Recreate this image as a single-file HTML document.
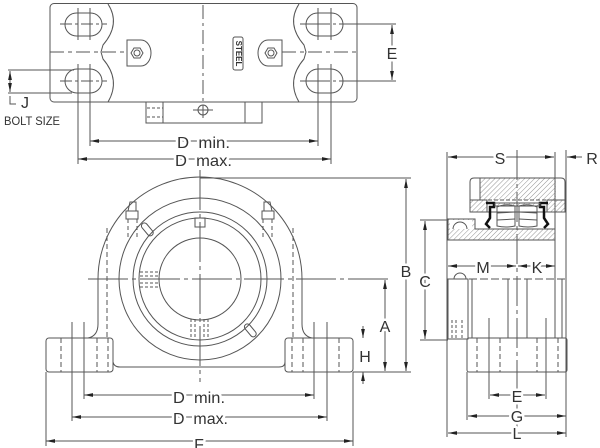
<!DOCTYPE html>
<html><head><meta charset="utf-8"><style>
html,body{margin:0;padding:0;background:#fff;}
svg{display:block}
text{font-family:"Liberation Sans",sans-serif;fill:#333;}
.t{stroke:#fff;stroke-width:5;paint-order:stroke;stroke-linejoin:round}
</style></head><body>
<svg width="600" height="448" viewBox="0 0 600 448" xmlns="http://www.w3.org/2000/svg">
<defs>
<marker id="ar" markerWidth="9" markerHeight="5" refX="9" refY="2.5" orient="auto-start-reverse" markerUnits="userSpaceOnUse"><path d="M0,0.6 L9,2.5 L0,4.4 z" fill="#222"/></marker>
<pattern id="h" width="3.5" height="3.5" patternUnits="userSpaceOnUse" patternTransform="rotate(45)"><line x1="0" y1="0" x2="0" y2="3.5" stroke="#888" stroke-width="0.9"/></pattern>
</defs>

<g fill="none" stroke="#555" stroke-width="1">
<!-- ===== TOP VIEW ===== -->
<rect x="50" y="3.5" width="307" height="98.5" rx="4"/>
<path d="M108,4 Q121,24 103,45 L101,52 L103,59 Q121,80 108,102"/>
<path d="M299,4 Q286,24 304,45 L306,52 L304,59 Q286,80 299,102"/>
<rect x="65" y="13" width="37" height="23" rx="11.5"/>
<rect x="65" y="69" width="37" height="24" rx="12"/>
<rect x="306" y="13" width="37" height="23" rx="11.5"/>
<rect x="306" y="69" width="37" height="24" rx="12"/>
<line x1="78" y1="8" x2="78" y2="40"/><line x1="90" y1="8" x2="90" y2="40"/>
<line x1="318" y1="8" x2="318" y2="40"/><line x1="331" y1="8" x2="331" y2="40"/>
<line x1="78" y1="64" x2="78" y2="164"/><line x1="90" y1="64" x2="90" y2="146"/>
<line x1="318" y1="64" x2="318" y2="146"/><line x1="331" y1="64" x2="331" y2="164"/>
<line x1="60" y1="24" x2="107" y2="24" stroke-dasharray="12,3,3,3"/>
<line x1="60" y1="81" x2="107" y2="81" stroke-dasharray="12,3,3,3"/>
<line x1="300" y1="24" x2="396" y2="24" stroke-dasharray="30,3,3,3,60"/>
<line x1="300" y1="81" x2="396" y2="81" stroke-dasharray="30,3,3,3,60"/>
<line x1="50" y1="52" x2="126" y2="52" stroke-dasharray="14,4,4,4"/>
<line x1="282" y1="52" x2="357" y2="52" stroke-dasharray="14,4,4,4"/>
<!-- grease fittings -->
<path d="M127,40 L141,40 A10,13 0 0 1 141,66 L127,66 Z"/>
<polygon points="143,53 140,58 134,58 131,53 134,48 140,48"/>
<circle cx="137" cy="53" r="3"/>
<path d="M282,40 L268,40 A10,13 0 0 0 268,66 L282,66 Z"/>
<polygon points="277,53 274,58 268,58 265,53 268,48 274,48"/>
<circle cx="271" cy="53" r="3"/>
<rect x="233" y="37" width="10" height="33" rx="2"/>
<!-- bottom projection -->
<rect x="146" y="102" width="116" height="21"/>
<line x1="245" y1="102" x2="245" y2="123"/>
<line x1="163" y1="102" x2="163" y2="123"/>
<line x1="147" y1="108" x2="163" y2="108" stroke-dasharray="3,2"/>
<line x1="147" y1="117" x2="163" y2="117" stroke-dasharray="3,2"/>
<circle cx="203" cy="110" r="5"/>
<line x1="193" y1="110" x2="213" y2="110"/>
<line x1="203" y1="5" x2="203" y2="118" stroke-dasharray="14,4,3,4"/>
<!-- J dimension -->
<line x1="8" y1="70" x2="74" y2="70"/>
<line x1="8" y1="93" x2="72" y2="93"/>
<line x1="10" y1="71" x2="10" y2="92" marker-start="url(#ar)" marker-end="url(#ar)"/>
<path d="M10,96 L10,104 L16,104"/>
<!-- E top -->
<line x1="392" y1="25" x2="392" y2="80" marker-start="url(#ar)" marker-end="url(#ar)"/>
<!-- D top -->
<line x1="90" y1="141" x2="318" y2="141" marker-start="url(#ar)" marker-end="url(#ar)"/>
<line x1="78" y1="159" x2="331" y2="159" marker-start="url(#ar)" marker-end="url(#ar)"/>

<!-- ===== FRONT VIEW ===== -->
<path d="M88,338 Q98,336 98,324 L98,279 A102,102 0 0 1 302,279 L302,324 Q302,336 312,338"/>
<path d="M113,362 Q114,367 120,367 L279,367 Q285,367 285,362"/>
<rect x="46" y="338" width="67" height="34" rx="3"/>
<rect x="285" y="338" width="68" height="34" rx="3"/>
<circle cx="200" cy="279" r="81"/>
<circle cx="200" cy="279" r="67"/>
<circle cx="200" cy="279" r="61"/>
<circle cx="200" cy="279" r="41"/>
<line x1="88" y1="279" x2="392" y2="279" stroke-dasharray="40,4,4,4"/>
<line x1="200" y1="170" x2="200" y2="382" stroke-dasharray="40,4,4,4"/>
<line x1="107" y1="228" x2="107" y2="338" stroke-dasharray="5,3"/>
<line x1="293" y1="228" x2="293" y2="338" stroke-dasharray="5,3"/>
<line x1="61" y1="338" x2="61" y2="372" stroke-dasharray="5,3"/>
<line x1="97" y1="338" x2="97" y2="372" stroke-dasharray="5,3"/>
<line x1="108" y1="338" x2="108" y2="372" stroke-dasharray="5,3"/>
<line x1="339" y1="338" x2="339" y2="372" stroke-dasharray="5,3"/>
<line x1="303" y1="338" x2="303" y2="372" stroke-dasharray="5,3"/>
<line x1="292" y1="338" x2="292" y2="372" stroke-dasharray="5,3"/>
<line x1="72" y1="322" x2="72" y2="421"/>
<line x1="84" y1="322" x2="84" y2="399"/>
<line x1="314" y1="322" x2="314" y2="399"/>
<line x1="327" y1="322" x2="327" y2="421"/>
<line x1="46" y1="372" x2="46" y2="446"/>
<line x1="353" y1="372" x2="353" y2="446"/>
<!-- grease fittings front -->
<path d="M128,211 L136,211 L136,202 L130,202 Z"/>
<rect x="126" y="211" width="12" height="8"/>
<line x1="128" y1="219" x2="128" y2="240" stroke-dasharray="4,3"/>
<line x1="137" y1="219" x2="137" y2="240" stroke-dasharray="4,3"/>
<path d="M264,211 L272,211 L270,202 L264,202 Z"/>
<rect x="262" y="211" width="12" height="8"/>
<line x1="263" y1="219" x2="263" y2="240" stroke-dasharray="4,3"/>
<line x1="272" y1="219" x2="272" y2="240" stroke-dasharray="4,3"/>
<rect x="195" y="218" width="10" height="9"/>
<rect x="140" y="226" width="15" height="6" rx="3" transform="rotate(50 147 229)"/>
<rect x="243" y="327" width="15" height="6" rx="3" transform="rotate(50 250 330)"/>
<g stroke-dasharray="3,2">
<line x1="140" y1="272" x2="158" y2="272"/><line x1="140" y1="276" x2="158" y2="276"/>
<line x1="140" y1="283" x2="158" y2="283"/><line x1="140" y1="287" x2="158" y2="287"/>
<line x1="191" y1="319" x2="191" y2="338"/><line x1="195" y1="319" x2="195" y2="338"/>
<line x1="204" y1="319" x2="204" y2="338"/><line x1="208" y1="319" x2="208" y2="338"/>
</g>
<!-- front dims -->
<line x1="200" y1="178" x2="411" y2="178"/>
<line x1="353" y1="372" x2="411" y2="372"/>
<line x1="406" y1="179" x2="406" y2="371" marker-start="url(#ar)" marker-end="url(#ar)"/>
<line x1="385" y1="280" x2="385" y2="371" marker-start="url(#ar)" marker-end="url(#ar)"/>
<line x1="363" y1="326" x2="363" y2="338" marker-end="url(#ar)"/>
<line x1="363" y1="384" x2="363" y2="372" marker-end="url(#ar)"/>
<line x1="420" y1="220" x2="448" y2="220"/>
<line x1="420" y1="340" x2="448" y2="340"/>
<line x1="425" y1="221" x2="425" y2="339" marker-start="url(#ar)" marker-end="url(#ar)"/>
<line x1="84" y1="395" x2="314" y2="395" marker-start="url(#ar)" marker-end="url(#ar)"/>
<line x1="72" y1="417" x2="327" y2="417" marker-start="url(#ar)" marker-end="url(#ar)"/>
<line x1="46" y1="441" x2="353" y2="441" marker-start="url(#ar)" marker-end="url(#ar)"/>

<!-- ===== SIDE VIEW ===== -->
<line x1="447" y1="152" x2="447" y2="437"/>
<line x1="555" y1="152" x2="555" y2="279"/>
<line x1="566" y1="150" x2="566" y2="437"/>
<line x1="517" y1="150" x2="517" y2="440" stroke-dasharray="30,4,4,4"/>
<line x1="448" y1="157" x2="554" y2="157" marker-start="url(#ar)" marker-end="url(#ar)"/>
<line x1="582" y1="157" x2="567" y2="157" marker-end="url(#ar)"/>
<!-- top cap -->
<rect x="480" y="178" width="76" height="22" fill="url(#h)" stroke="none"/>
<path d="M470,200 L470,182 Q470,178 474,178 L561,178 Q565,178 565,182 L565,200"/>
<line x1="480" y1="178" x2="480" y2="200"/>
<rect x="470" y="200" width="17" height="12" fill="url(#h)" stroke="#555"/>
<rect x="547" y="200" width="18" height="12" fill="url(#h)" stroke="#555"/>
<line x1="470" y1="200" x2="565" y2="200" stroke-dasharray="4,2"/>
<line x1="470" y1="212" x2="565" y2="212"/>
<!-- seals -->
<path d="M486,203 L494,203 L494,207 L490,207 L490,218 L486,224 L490,228" stroke="#111" stroke-width="2.5"/>
<path d="M548,203 L540,203 L540,207 L544,207 L544,218 L548,224 L544,228" stroke="#111" stroke-width="2.5"/>
<!-- rollers -->
<path d="M497,207 Q506,203 515,206 L515,226 Q506,228 497,226 Z"/>
<path d="M519,206 Q528,203 537,207 L537,226 Q528,228 519,226 Z"/>
<line x1="497" y1="213" x2="515" y2="212"/><line x1="497" y1="220" x2="515" y2="219"/>
<line x1="519" y1="212" x2="537" y2="213"/><line x1="519" y1="219" x2="537" y2="220"/>
<rect x="495" y="203" width="45" height="3" fill="url(#h)"/>
<!-- base -->
<path d="M448,219 L475,219 L475,229 L555,229 L555,240 L448,240 Z" fill="url(#h)"/>
<rect x="450" y="220" width="22" height="9" fill="#fff" stroke="none"/>
<path d="M453,229 A7,7 0 0 1 467,229"/>
<!-- lower body -->
<line x1="447" y1="279" x2="567" y2="279" stroke-dasharray="8,3"/>
<path d="M454,279 A6,6 0 0 1 466,279"/>
<rect x="448" y="279" width="20" height="60"/>
<line x1="472" y1="279" x2="472" y2="338"/>
<line x1="508" y1="279" x2="508" y2="338"/>
<line x1="527" y1="279" x2="527" y2="338"/>
<line x1="555" y1="279" x2="555" y2="338"/>
<line x1="562" y1="279" x2="562" y2="338"/>
<line x1="452" y1="320" x2="452" y2="338" stroke-dasharray="3,2"/>
<line x1="456" y1="320" x2="456" y2="338" stroke-dasharray="3,2"/>
<line x1="462" y1="320" x2="462" y2="338" stroke-dasharray="3,2"/>
<rect x="467" y="338" width="100" height="34" rx="2"/>
<line x1="477" y1="338" x2="477" y2="372" stroke-dasharray="5,3"/>
<line x1="500" y1="338" x2="500" y2="372" stroke-dasharray="5,3"/>
<line x1="537" y1="338" x2="537" y2="372" stroke-dasharray="5,3"/>
<line x1="558" y1="338" x2="558" y2="372" stroke-dasharray="5,3"/>
<line x1="489" y1="318" x2="489" y2="399"/>
<line x1="546" y1="318" x2="546" y2="399"/>
<line x1="467" y1="372" x2="467" y2="420"/>
<line x1="448" y1="266" x2="516" y2="266" marker-start="url(#ar)" marker-end="url(#ar)"/>
<line x1="518" y1="266" x2="555" y2="266" marker-start="url(#ar)" marker-end="url(#ar)"/>
<line x1="490" y1="395" x2="545" y2="395" marker-start="url(#ar)" marker-end="url(#ar)"/>
<line x1="468" y1="416" x2="566" y2="416" marker-start="url(#ar)" marker-end="url(#ar)"/>
<line x1="448" y1="433" x2="566" y2="433" marker-start="url(#ar)" marker-end="url(#ar)"/>
</g>

<!-- TEXT -->
<text x="238" y="53.5" font-family="Liberation Serif,serif" font-size="8" font-weight="bold" text-anchor="middle" dominant-baseline="middle" transform="rotate(90 238 53.5)" style="fill:#333">STEEL</text>
<g font-size="16">
<text class="t" x="177" y="148" textLength="53" lengthAdjust="spacingAndGlyphs">D&#160;&#160;min.</text>
<text class="t" x="175" y="166" textLength="57" lengthAdjust="spacingAndGlyphs">D&#160;&#160;max.</text>
<text x="25" y="108" text-anchor="middle">J</text>
<text x="4" y="125" font-size="12" textLength="56" lengthAdjust="spacingAndGlyphs">BOLT SIZE</text>
<text class="t" x="392" y="59" text-anchor="middle">E</text>
<text class="t" x="173" y="403" textLength="52" lengthAdjust="spacingAndGlyphs">D&#160;&#160;min.</text>
<text class="t" x="173" y="424" textLength="55" lengthAdjust="spacingAndGlyphs">D&#160;&#160;max.</text>
<text class="t" x="199" y="450" text-anchor="middle">F</text>
<text class="t" x="406" y="277" text-anchor="middle">B</text>
<text class="t" x="425" y="287" text-anchor="middle">C</text>
<text class="t" x="385" y="332" text-anchor="middle">A</text>
<text class="t" x="365" y="362" text-anchor="middle">H</text>
<text class="t" x="500" y="164" text-anchor="middle">S</text>
<text x="592" y="164" text-anchor="middle">R</text>
<text class="t" x="483" y="273" text-anchor="middle">M</text>
<text class="t" x="537" y="273" text-anchor="middle">K</text>
<text class="t" x="517" y="402" text-anchor="middle">E</text>
<text class="t" x="517" y="422" text-anchor="middle">G</text>
<text class="t" x="517" y="439" text-anchor="middle">L</text>
</g>
</svg>
</body></html>
